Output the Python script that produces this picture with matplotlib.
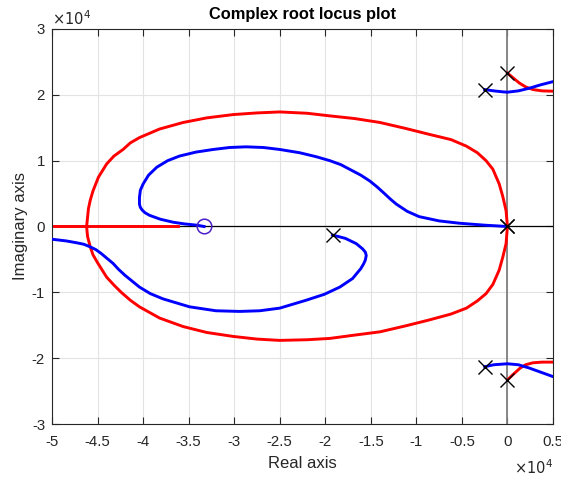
import numpy as np
import matplotlib
matplotlib.use("Agg")
import matplotlib.pyplot as plt
from matplotlib.ticker import FuncFormatter

plt.rcParams["font.family"] = ["Liberation Sans", "DejaVu Sans"]
plt.rcParams["axes.unicode_minus"] = False

scale = 1e4  # all coordinates below are in units of 10^4

# red branch: big loop through the origin
red_loop_x = [0, -0.015, -0.05, -0.09, -0.16, -0.235, -0.33, -0.45, -0.62, -0.86, -1.12, -1.40,
              -1.68, -1.95, -2.20, -2.50, -2.75, -3.01, -3.30, -3.56, -3.82, -4.04, -4.14,
              -4.22, -4.32, -4.40, -4.49, -4.55, -4.58, -4.60, -4.62, -4.61, -4.58, -4.55,
              -4.50, -4.45, -4.40, -4.32, -4.24, -4.14, -4.04, -3.82, -3.56, -3.30, -3.01,
              -2.75, -2.50, -2.20, -1.95, -1.68, -1.40, -1.12, -0.86, -0.62, -0.45, -0.33,
              -0.235, -0.16, -0.09, -0.05, -0.015, 0]
red_loop_y = [0, 0.24, 0.45, 0.645, 0.87, 1.0, 1.12, 1.22, 1.32, 1.40, 1.49, 1.58,
              1.64, 1.68, 1.72, 1.74, 1.725, 1.70, 1.65, 1.58, 1.48, 1.35, 1.27,
              1.17, 1.07, 0.95, 0.75, 0.54, 0.40, 0.27, 0, -0.15, -0.31, -0.43,
              -0.55, -0.66, -0.77, -0.89, -1.00, -1.12, -1.22, -1.39, -1.52, -1.61, -1.67,
              -1.71, -1.73, -1.72, -1.70, -1.65, -1.60, -1.51, -1.42, -1.33, -1.24, -1.13,
              -1.02, -0.88, -0.66, -0.46, -0.26, 0]
red_line_x = [-5.2, -3.62]
red_line_y = [0, 0]
red_top_x = [0, 0.06, 0.13, 0.20, 0.28, 0.38, 0.5]
red_top_y = [2.33, 2.26, 2.18, 2.12, 2.08, 2.06, 2.055]
red_bot_x = [0, 0.06, 0.14, 0.20, 0.28, 0.38, 0.5]
red_bot_y = [-2.33, -2.25, -2.15, -2.10, -2.07, -2.06, -2.06]

# blue branches
blue_up_x = [-3.33, -3.41, -3.55, -3.67, -3.81, -3.93, -3.98, -4.01, -4.03, -4.04, -4.04, -4.03,
             -4.0, -3.94, -3.85, -3.73, -3.60, -3.42, -3.23, -3.05, -2.87, -2.68, -2.50, -2.28,
             -2.10, -1.95, -1.83, -1.72, -1.61, -1.51, -1.43, -1.35, -1.28, -1.22, -1.10,
             -0.97, -0.75, -0.53, -0.25, 0]
blue_up_y = [0, 0.02, 0.04, 0.065, 0.11, 0.17, 0.21, 0.25, 0.29, 0.34, 0.44, 0.55,
             0.645, 0.78, 0.9, 1.0, 1.07, 1.13, 1.17, 1.20, 1.21, 1.20, 1.17, 1.12,
             1.06, 1.0, 0.94, 0.86, 0.78, 0.69, 0.60, 0.50, 0.41, 0.34, 0.23,
             0.15, 0.085, 0.05, 0.02, 0]
blue_low_x = [-1.92, -1.78, -1.66, -1.59, -1.56, -1.55, -1.56, -1.58, -1.61, -1.70, -1.84, -2.01,
              -2.21, -2.50, -2.72, -2.94, -3.20, -3.49, -3.78, -3.92, -4.04, -4.12, -4.20,
              -4.27, -4.33, -4.40, -4.46, -4.52, -4.58, -4.65, -4.72, -4.84, -5.2]
blue_low_y = [-0.13, -0.18, -0.26, -0.34, -0.39, -0.44, -0.51, -0.57, -0.64, -0.79, -0.92, -1.03,
              -1.12, -1.24, -1.28, -1.29, -1.28, -1.22, -1.10, -1.02, -0.92, -0.83, -0.74,
              -0.65, -0.56, -0.48, -0.41, -0.35, -0.31, -0.27, -0.25, -0.22, -0.16]
blue_top_x = [-0.25, -0.15, -0.05, 0, 0.12, 0.24, 0.36, 0.5]
blue_top_y = [2.08, 2.06, 2.045, 2.04, 2.06, 2.10, 2.15, 2.2]
blue_bot_x = [-0.25, -0.15, -0.05, 0, 0.12, 0.24, 0.36, 0.5]
blue_bot_y = [-2.13, -2.10, -2.09, -2.085, -2.10, -2.15, -2.21, -2.28]

poles_x = [-1.92, 0, 0, -0.25, 0, -0.25, 0]
poles_y = [-0.13, 0, 0, 2.08, 2.33, -2.13, -2.33]
zeros_x = [-3.33]
zeros_y = [0]

xticks = np.arange(-5, 0.51, 0.5)
yticks = np.arange(-3, 3.1, 1)

fig = plt.figure(figsize=(5.61, 4.79), dpi=100)
ax = fig.add_axes([0.0927, 0.1148, 0.8930, 0.8247])

ax.axhline(0, color="black", lw=0.9, zorder=1)
ax.axvline(0, color="#7f7f7f", lw=1.3, zorder=1)

lw = 2.1
for xs, ys in [(blue_up_x, blue_up_y), (blue_low_x, blue_low_y),
               (blue_top_x, blue_top_y), (blue_bot_x, blue_bot_y)]:
    ax.plot(np.array(xs) * scale, np.array(ys) * scale, color="#0000ff", lw=lw,
            solid_joinstyle="round", zorder=3)
for xs, ys in [(red_loop_x, red_loop_y), (red_line_x, red_line_y),
               (red_top_x, red_top_y), (red_bot_x, red_bot_y)]:
    ax.plot(np.array(xs) * scale, np.array(ys) * scale, color="#ff0000", lw=lw,
            solid_joinstyle="round", zorder=2)

ax.plot(np.array(poles_x) * scale, np.array(poles_y) * scale, "x", color="black",
        ms=10, mew=1.0, zorder=5)
ax.plot(np.array(zeros_x) * scale, np.array(zeros_y) * scale, "o", mfc="none",
        mec="#4b1fc8", ms=10.5, mew=1.1, zorder=5)

ax.set_xlim(-5 * scale, 0.5 * scale)
ax.set_ylim(-3 * scale, 3 * scale)
ax.set_xticks(xticks * scale)
ax.set_yticks(yticks * scale)

fmt = FuncFormatter(lambda v, pos: "%g" % round(v / scale, 2))
ax.xaxis.set_major_formatter(fmt)
ax.yaxis.set_major_formatter(fmt)

ax.grid(True, color="#e3e3e3", lw=0.8, zorder=0)
ax.set_axisbelow(True)
ax.tick_params(direction="in", top=True, right=True, length=5, width=0.8,
               labelsize=10.8, colors="#262626", labelcolor="#262626")
ax.tick_params(axis="x", pad=8)
ax.tick_params(axis="y", pad=5)
for sp in ax.spines.values():
    sp.set_color("#262626")
    sp.set_linewidth(0.8)

# exponent labels as in the reference
ax.text(1.0, -0.11, r"$\times10^4$", transform=ax.transAxes, ha="right", va="center",
        fontsize=10.5, color="#262626")
ax.text(0.0, 1.025, r"$\times10^4$", transform=ax.transAxes, ha="left", va="center",
        fontsize=10.5, color="#262626")

ax.set_xlabel("Real axis", fontsize=12, labelpad=5, color="#262626")
ax.set_ylabel("Imaginary axis", fontsize=12, labelpad=3, color="#262626")
ax.set_title("Complex root locus plot", fontsize=11.8, fontweight="bold", pad=7)

fig.savefig("out.png", dpi=100)
